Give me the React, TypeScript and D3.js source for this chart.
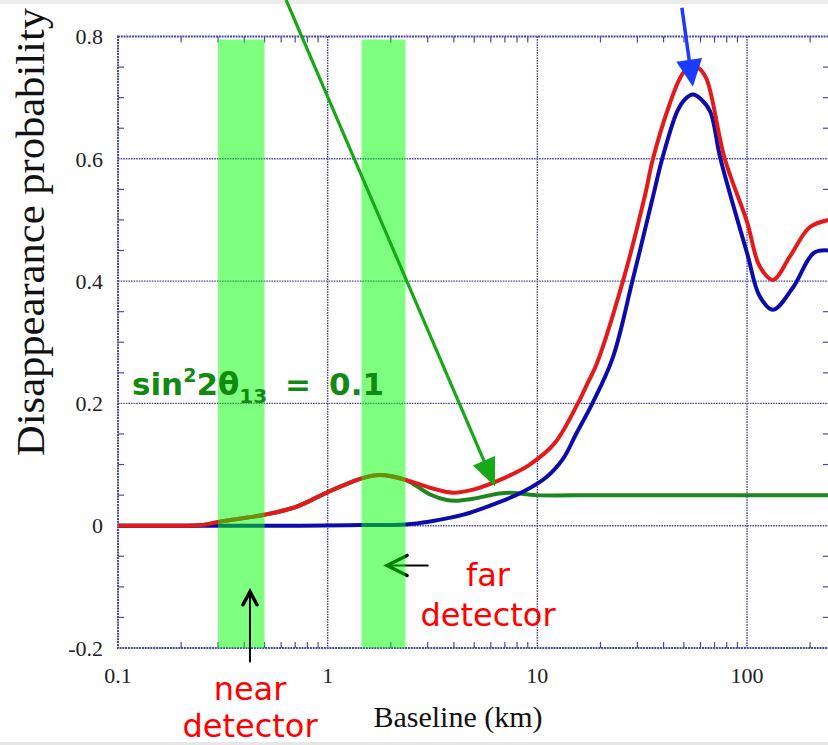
import React from "react";
import * as d3 from "d3";

// Disappearance probability vs reactor baseline (km), sin^2 2θ13 = 0.1
const redBaseline = [0.1, 0.2, 0.25, 0.31, 0.5, 0.71, 1.0, 1.27, 1.44, 1.77, 2.35, 3.08, 3.96, 4.94, 6.85, 9.2, 12.1, 15.6, 17.3, 19.2, 25.6, 32.6, 35.6, 42.8, 48.1, 53.3, 59, 64.2, 78.3, 100, 115, 133, 160, 199, 246];
const redProb = [0, 0, 0.001, 0.007, 0.018, 0.031, 0.055, 0.07, 0.077, 0.083, 0.075, 0.062, 0.054, 0.059, 0.077, 0.1, 0.135, 0.2, 0.232, 0.265, 0.4, 0.54, 0.6, 0.69, 0.733, 0.752, 0.748, 0.73, 0.6, 0.497, 0.424, 0.402, 0.44, 0.488, 0.5];

const blueBaseline = [0.1, 0.74, 1.43, 2.35, 3.08, 4.44, 6.4, 8.5, 11.1, 13.3, 15.3, 18.3, 22.9, 28.4, 35.3, 39.4, 46.4, 50.5, 55.2, 60.5, 66.8, 74.7, 100, 115, 133, 166, 208, 246];
const blueProb = [0, 0, 0.001, 0.002, 0.007, 0.018, 0.037, 0.055, 0.08, 0.11, 0.15, 0.2, 0.275, 0.4, 0.533, 0.6, 0.677, 0.697, 0.705, 0.697, 0.677, 0.6, 0.446, 0.375, 0.353, 0.39, 0.446, 0.45];

const greenBaseline = [0.1, 0.2, 0.25, 0.31, 0.5, 0.71, 1.0, 1.27, 1.44, 1.77, 2.35, 3.08, 3.7, 4.14, 4.94, 6.4, 7.4, 9.9, 19.8, 246];
const greenProb = [0, 0, 0.001, 0.007, 0.018, 0.031, 0.055, 0.07, 0.077, 0.083, 0.075, 0.051, 0.042, 0.041, 0.044, 0.052, 0.054, 0.05, 0.05, 0.05];

// Detector baseline ranges (km)
const nearDetectorKm = [0.3, 0.5];
const farDetectorKm = [1.45, 2.35];
const bandTopProb = 0.795;

const xTickValues = [0.1, 1, 10, 100];
const xTickLabels = ["0.1", "1", "10", "100"];
const yTickValues = [0.8, 0.6, 0.4, 0.2, 0, -0.2];
const yTickLabels = ["0.8", "0.6", "0.4", "0.2", "0", "-0.2"];

const W = 828;
const H = 745;
const left = 118;
const right = 829;
const top = 36.5;
const bottom = 648;

const x = d3.scaleLog().domain([0.1, 246]).range([left, right]);
const y = d3.scaleLinear().domain([-0.2, 0.8]).range([bottom, top]);

const line = d3
  .line<[number, number]>()
  .x((d) => x(d[0]))
  .y((d) => y(d[1]))
  .curve(d3.curveCatmullRom.alpha(0.5));

const zip = (a: number[], b: number[]) => a.map((v, i) => [v, b[i]] as [number, number]);

const serif = "'Liberation Serif', 'Times New Roman', serif";
const handFont = "'DejaVu Sans', sans-serif";
const gridColor = "#4a4aa6";

function ArrowWithHead({ x1, y1, x2, y2, color, width, headLen, headHalf }: any) {
  const dx = x2 - x1;
  const dy = y2 - y1;
  const len = Math.hypot(dx, dy);
  const ux = dx / len;
  const uy = dy / len;
  const bx = x2 - ux * headLen;
  const by = y2 - uy * headLen;
  const px = -uy * headHalf;
  const py = ux * headHalf;
  return (
    <g>
      <line x1={x1} y1={y1} x2={bx + ux * 2} y2={by + uy * 2} stroke={color} strokeWidth={width} />
      <polygon points={`${x2},${y2} ${bx + px},${by + py} ${bx - px},${by - py}`} fill={color} />
    </g>
  );
}

export default function App() {
  // minor ticks
  const xMinor: number[] = [];
  for (const dec of [0.1, 1, 10, 100]) {
    for (let k = 2; k <= 9; k++) {
      const v = dec * k;
      if (v < 246) xMinor.push(v);
    }
  }
  const yMinor: number[] = [];
  for (let v = -0.15; v < 0.8; v += 0.05) {
    const r = Math.round(v * 100) / 100;
    if (Math.abs((r * 10) % 2) > 0.01) yMinor.push(r);
  }

  const farArrowY = y(-0.065);
  const nearArrowX = x(0.426);

  return (
    <svg
      width={W}
      height={H}
      style={{ position: "absolute", left: 0, top: 0, background: "#fff" }}
      xmlns="http://www.w3.org/2000/svg"
    >
      <rect x={0} y={0} width={W} height={H} fill="#fff" />
      <rect x={0} y={0} width={W} height={4} fill="#ebebeb" />
      <rect x={0} y={742} width={W} height={3} fill="#e6e6e6" />

      {/* gridlines */}
      <g stroke={gridColor} strokeWidth={1.4} strokeDasharray="1.6 1">
        {xTickValues.slice(1).map((v) => (
          <line key={"gx" + v} x1={x(v)} x2={x(v)} y1={top} y2={bottom} />
        ))}
        {yTickValues.slice(1, -1).map((v) => (
          <line key={"gy" + v} x1={left} x2={right} y1={y(v)} y2={y(v)} />
        ))}
      </g>

      {/* minor ticks */}
      <g stroke={gridColor} strokeWidth={1.2}>
        {xMinor.map((v) => (
          <g key={"mx" + v}>
            <line x1={x(v)} x2={x(v)} y1={bottom} y2={bottom - 6} />
            <line x1={x(v)} x2={x(v)} y1={top} y2={top + 6} />
          </g>
        ))}
        {yMinor.map((v) => (
          <g key={"my" + v}>
            <line x1={left} x2={left + 6} y1={y(v)} y2={y(v)} />
            <line x1={right} x2={right - 6} y1={y(v)} y2={y(v)} />
          </g>
        ))}
      </g>

      {/* frame */}
      <rect
        x={left}
        y={top}
        width={right - left}
        height={bottom - top}
        fill="none"
        stroke={gridColor}
        strokeWidth={2}
        strokeDasharray="2 0.8"
      />

      {/* curves */}
      <path d={line(zip(greenBaseline, greenProb)) || ""} fill="none" stroke="#1f861f" strokeWidth={4} />
      <path d={line(zip(blueBaseline, blueProb)) || ""} fill="none" stroke="#0c0caa" strokeWidth={4} />
      <path d={line(zip(redBaseline, redProb)) || ""} fill="none" stroke="#e41a1a" strokeWidth={4} />

      {/* far detector pointer (under the band) */}
      <g stroke="#000" fill="none" strokeLinecap="round">
        <line x1={x(3.0)} y1={farArrowY} x2={x(1.92)} y2={farArrowY} strokeWidth={2} />
        <polyline
          points={`${x(1.92) + 20},${farArrowY - 10} ${x(1.92)},${farArrowY} ${x(1.92) + 20},${farArrowY + 10}`}
          strokeWidth={3.5}
        />
      </g>

      {/* detector bands */}
      {[nearDetectorKm, farDetectorKm].map((b, i) => (
        <rect
          key={"band" + i}
          x={x(b[0])}
          y={y(bandTopProb)}
          width={x(b[1]) - x(b[0])}
          height={y(-0.2) - y(bandTopProb)}
          fill="rgb(0,255,0)"
          fillOpacity={0.5}
        />
      ))}

      {/* near detector pointer */}
      <g stroke="#000" fill="none" strokeLinecap="round">
        <line x1={nearArrowX} y1={y(-0.222)} x2={nearArrowX} y2={y(-0.108)} strokeWidth={2} />
        <polyline
          points={`${nearArrowX - 7},${y(-0.108) + 13} ${nearArrowX},${y(-0.108)} ${nearArrowX + 7},${y(-0.108) + 13}`}
          strokeWidth={3.5}
        />
      </g>

      {/* annotation arrows */}
      <ArrowWithHead
        x1={x(0.633)}
        y1={y(0.86)}
        x2={x(6.28)}
        y2={y(0.064)}
        color="#17a817"
        width={3.2}
        headLen={28}
        headHalf={12}
      />
      <ArrowWithHead
        x1={x(48.9)}
        y1={y(0.847)}
        x2={x(55.2)}
        y2={y(0.718)}
        color="#1a3cff"
        width={3.5}
        headLen={27}
        headHalf={13}
      />

      {/* y tick labels */}
      <g fontFamily={serif} fontSize={22} fill="#222" textAnchor="end">
        {yTickValues.map((v, i) => (
          <text key={"yl" + v} x={103} y={y(v)} dy="0.35em">
            {yTickLabels[i]}
          </text>
        ))}
      </g>
      {/* x tick labels */}
      <g fontFamily={serif} fontSize={22} fill="#222" textAnchor="middle">
        {xTickValues.map((v, i) => (
          <text key={"xl" + v} x={x(v)} y={683}>
            {xTickLabels[i]}
          </text>
        ))}
      </g>

      {/* axis titles */}
      <text x={458} y={727} fontFamily={serif} fontSize={30} textAnchor="middle" fill="#111">
        Baseline (km)
      </text>
      <text
        transform="translate(44,232) rotate(-90)"
        fontFamily={serif}
        fontSize={40}
        textAnchor="middle"
        fill="#111"
        textLength={448}
        lengthAdjust="spacingAndGlyphs"
      >
        Disappearance probability
      </text>

      {/* mixing angle label */}
      <text x={132} y={395} fontFamily={handFont} fontWeight="bold" fontSize={31} fill="#128a12">
        <tspan>sin</tspan>
        <tspan fontSize={19} dy={-13}>2</tspan>
        <tspan fontSize={31} dy={13}>2θ</tspan>
        <tspan fontSize={20} dy={8}>13</tspan>
        <tspan fontSize={31} dy={-8} dx={18}>=</tspan>
        <tspan dx={18}>0.1</tspan>
      </text>

      {/* detector labels */}
      <g fontFamily={handFont} fontSize={32} fill="#ff0000" textAnchor="middle">
        <text x={488} y={586}>far</text>
        <text x={488} y={626}>detector</text>
        <text x={250} y={700}>near</text>
        <text x={250} y={737}>detector</text>
      </g>
    </svg>
  );
}
